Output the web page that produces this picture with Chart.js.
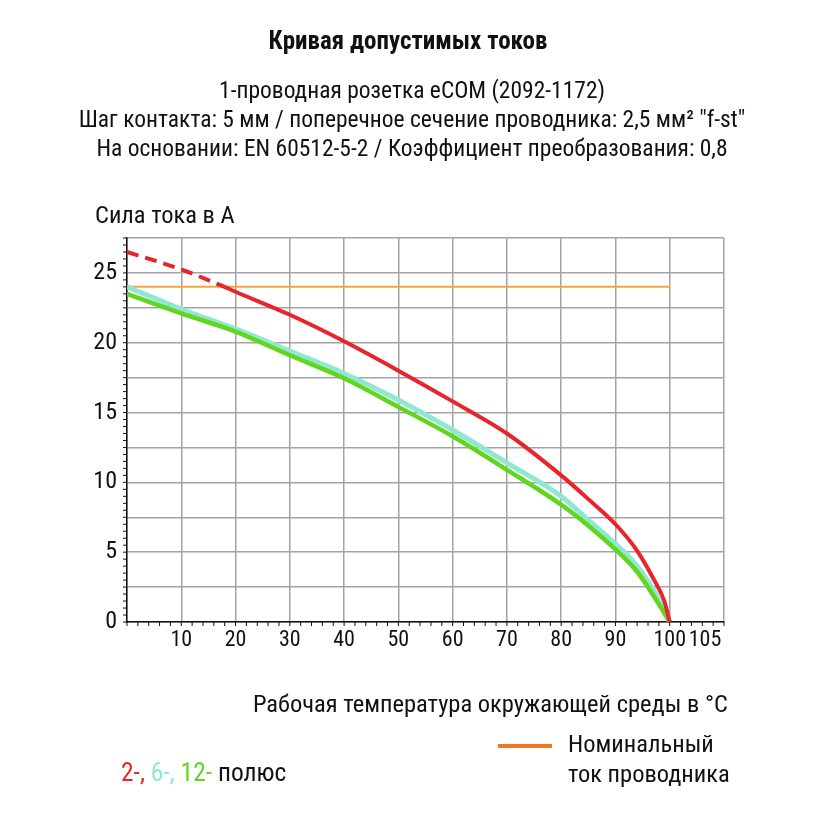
<!DOCTYPE html>
<html>
<head>
<meta charset="utf-8">
<script src="https://cdn.jsdelivr.net/npm/chart.js@4.4.1/dist/chart.umd.min.js"></script>
<style>
  html, body { margin: 0; padding: 0; background: #fff; }
  #wrap { width: 817px; height: 817px; }
</style>
</head>
<body>
<div id="wrap"><canvas id="currentChart" width="817" height="817"></canvas></div>
<script>
const FONT = "'Liberation Sans Narrow', 'Roboto Condensed', 'Liberation Sans', Arial, sans-serif";

// curve data (temperature in °C, current in A)
const redDashT = [0, 10, 18];
const redDashI = [26.5, 25.25, 24.0];
const redT = [18, 20, 30, 40, 50, 60, 70, 80, 85, 90, 94, 97, 99, 100];
const redI = [24.0, 23.65, 22.0, 20.1, 18.0, 15.8, 13.5, 10.5, 8.8, 7.0, 5.1, 3.1, 1.5, 0];
const poleT = [0, 10, 20, 30, 40, 50, 60, 70, 80, 85, 90, 94, 97, 100];
const cyanI = [24.0, 22.4, 21.0, 19.4, 17.8, 15.9, 13.75, 11.4, 9.0, 7.3, 5.6, 4.0, 2.3, 0];
const greenI = [23.5, 22.1, 20.8, 19.1, 17.45, 15.4, 13.3, 10.9, 8.4, 6.9, 5.2, 3.6, 1.9, 0];
const nominalT = [0, 100];
const nominalI = [24, 24];

// x axis: the drawn axis runs on to 110, the last label "105" sits a bit short of the edge
const xTickValues = [0, 10, 20, 30, 40, 50, 60, 70, 80, 90, 100, 106.5, 110];
const xTickLabels = ["", "10", "20", "30", "40", "50", "60", "70", "80", "90", "100", "105", ""];
const yTickLabels = { 0: "0", 5: "5", 10: "10", 15: "15", 20: "20", 25: "25" };

const titleText = "Кривая допустимых токов";
const subLines = [
  "1-проводная розетка eCOM (2092-1172)",
  "Шаг контакта: 5 мм / поперечное сечение проводника: 2,5 мм² \"f-st\"",
  "На основании: EN 60512-5-2 / Коэффициент преобразования: 0,8"
];
const yTitle = "Сила тока в А";
const xTitle = "Рабочая температура окружающей среды в °C";
const nominalLabel = ["Номинальный", "ток проводника"];
const poleParts = [["2-", "#e8252b"], [", ", "#e8252b"], ["6-", "#8fe8d2"], [", ", "#8fe8d2"], ["12-", "#62d61e"], [" полюс", "#111"]];

function pts(xs, ys) {
  return xs.map((x, i) => ({ x: x, y: ys[i] }));
}

// texts, legend and small axis ticks
const extras = {
  id: "extras",
  afterDraw(chart) {
    const ctx = chart.ctx;
    const xs = chart.scales.x;
    const ys = chart.scales.y;
    ctx.save();

    // minor ticks
    ctx.strokeStyle = "#111";
    ctx.lineWidth = 1;
    for (let v = 0; v <= 110; v += 2) {
      let px = xs.getPixelForValue(v);
      ctx.beginPath();
      ctx.moveTo(px, ys.bottom);
      ctx.lineTo(px, ys.bottom + 4);
      ctx.stroke();
    }
    for (let v = 0; v <= 27.5; v += 0.5) {
      let py = ys.getPixelForValue(v);
      ctx.beginPath();
      ctx.moveTo(xs.left - 4, py);
      ctx.lineTo(xs.left, py);
      ctx.stroke();
    }

    ctx.fillStyle = "#111";
    ctx.textBaseline = "middle";

    ctx.textAlign = "center";
    ctx.font = "bold 25px " + FONT;
    ctx.fillText(titleText, 408, 43);

    ctx.font = "23.5px " + FONT;
    subLines.forEach((t, i) => ctx.fillText(t, 412, 92 + i * 29));

    ctx.font = "24.5px " + FONT;
    ctx.textAlign = "left";
    ctx.fillText(yTitle, 95, 217);

    ctx.textAlign = "right";
    ctx.fillText(xTitle, 728, 706);

    // nominal current legend
    ctx.strokeStyle = "#f07a1e";
    ctx.lineWidth = 4;
    ctx.beginPath();
    ctx.moveTo(498, 746);
    ctx.lineTo(552, 746);
    ctx.stroke();
    ctx.textAlign = "left";
    ctx.fillText(nominalLabel[0], 568, 746);
    ctx.fillText(nominalLabel[1], 568, 776);

    // poles legend
    ctx.font = "25.5px " + FONT;
    let x = 121;
    poleParts.forEach((p) => {
      ctx.fillStyle = p[1];
      ctx.fillText(p[0], x, 775);
      x += ctx.measureText(p[0]).width;
    });

    ctx.restore();
  }
};

new Chart(document.getElementById("currentChart"), {
  type: "line",
  data: {
    datasets: [
      {
        data: pts(redDashT, redDashI),
        borderColor: "#e8252b",
        borderWidth: 4,
        borderDash: [12, 7],
        cubicInterpolationMode: "monotone",
        order: 1
      },
      {
        data: pts(redT, redI),
        borderColor: "#e8252b",
        borderWidth: 4,
        cubicInterpolationMode: "monotone",
        order: 1
      },
      {
        data: pts(poleT, greenI),
        borderColor: "#62d61e",
        borderWidth: 4.5,
        cubicInterpolationMode: "monotone",
        order: 2
      },
      {
        data: pts(poleT, cyanI),
        borderColor: "#8fe8d2",
        borderWidth: 5,
        cubicInterpolationMode: "monotone",
        order: 3
      },
      {
        data: pts(nominalT, nominalI),
        borderColor: "#f7a53a",
        borderWidth: 2,
        order: 4
      }
    ]
  },
  options: {
    responsive: false,
    animation: false,
    events: [],
    elements: { point: { radius: 0 } },
    layout: { padding: { top: 238, right: 93, bottom: 150, left: 0 } },
    plugins: {
      legend: { display: false },
      tooltip: { enabled: false },
      title: { display: false }
    },
    scales: {
      x: {
        type: "linear",
        min: 0,
        max: 110,
        afterBuildTicks: (scale) => {
          scale.ticks = xTickValues.map((v) => ({ value: v }));
        },
        afterFit: (scale) => { scale.height = 45; },
        grid: {
          color: (c) => (c.tick && c.tick.value === 106.5 ? "rgba(0,0,0,0)" : "#a3a3a3"),
          lineWidth: 1.5,
          drawTicks: false
        },
        border: { color: "#111", width: 1.5 },
        ticks: {
          padding: 5,
          color: "#111",
          autoSkip: false,
          maxRotation: 0,
          font: { family: FONT, size: 22 },
          callback: (v) => xTickLabels[xTickValues.indexOf(v)]
        }
      },
      y: {
        min: 0,
        max: 27.5,
        afterFit: (scale) => { scale.width = 127; },
        grid: { color: "#a3a3a3", lineWidth: 1.5, drawTicks: false },
        border: { color: "#111", width: 1.5 },
        ticks: {
          stepSize: 2.5,
          padding: 10,
          color: "#111",
          font: { family: FONT, size: 24 },
          callback: (v) => yTickLabels[v] || ""
        }
      }
    }
  },
  plugins: [extras]
});
</script>
</body>
</html>
